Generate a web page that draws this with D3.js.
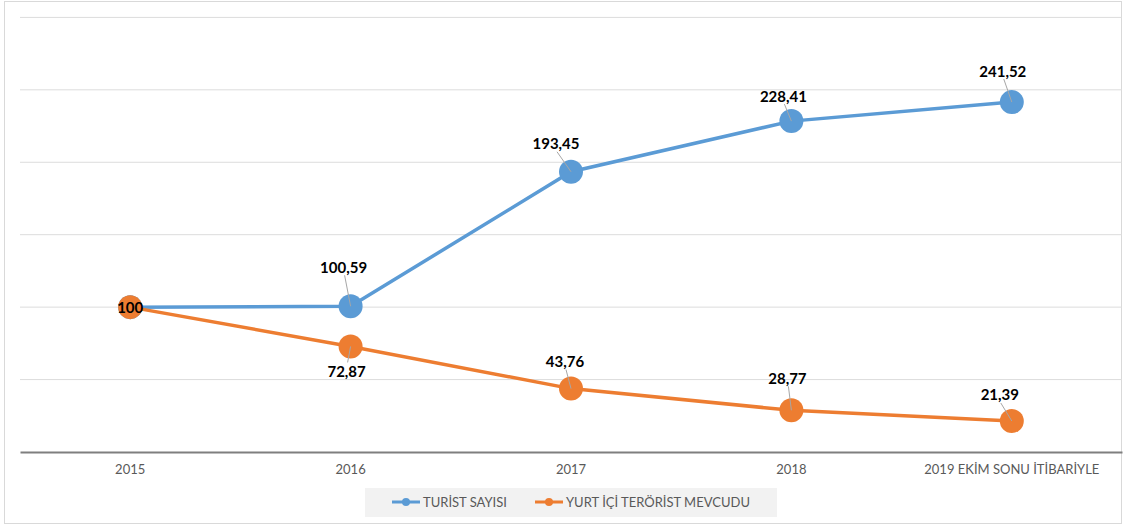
<!DOCTYPE html>
<html>
<head>
<meta charset="utf-8">
<script src="https://cdn.jsdelivr.net/npm/d3@7"></script>
<style>
  body { margin: 0; background: #fff; }
  text { font-family: Lato, "Open Sans", sans-serif; }
</style>
</head>
<body>
<div id="chart"></div>
<script>
// size
var svgWidth = 1123;
var svgHeight = 525;

// data
var categories = ["2015", "2016", "2017", "2018", "2019 EKİM SONU İTİBARİYLE"];
var seriesNames = ["TURİST SAYISI", "YURT İÇİ TERÖRİST MEVCUDU"];
var turistValues = [100, 100.59, 193.45, 228.41, 241.52];
var terorValues = [100, 72.87, 43.76, 28.77, 21.39];
var yTicks = [0, 50, 100, 150, 200, 250, 300];

var colors = ["#5B9BD5", "#ED7D31"];

var svg = d3.select("#chart")
  .append("svg")
  .attr("width", svgWidth)
  .attr("height", svgHeight);

// frame
svg.append("rect")
  .attr("x", 4.5).attr("y", 1.5)
  .attr("width", svgWidth - 6).attr("height", svgHeight - 3)
  .attr("fill", "#fff")
  .attr("stroke", "#d9d9d9");

var xScale = d3.scaleBand()
  .domain(categories)
  .range([20, 1122]);

var yScale = d3.scaleLinear()
  .domain([0, 300])
  .range([452, 17.4]);

var cx = d => xScale(d) + xScale.bandwidth() / 2;

// gridlines
svg.append("g")
  .selectAll("line")
  .data(yTicks.slice(1))
  .enter()
  .append("line")
  .attr("x1", 20).attr("x2", 1122)
  .attr("y1", d => yScale(d)).attr("y2", d => yScale(d))
  .attr("stroke", "#dcdcdc")
  .attr("stroke-width", 1);

// x axis
var xAxis = svg.append("g")
  .attr("transform", `translate(0, ${yScale(0)})`)
  .call(d3.axisBottom(xScale).tickSize(0).tickPadding(13));
xAxis.select(".domain").attr("stroke", "#7f7f7f").attr("stroke-width", 2);
xAxis.selectAll("text")
  .attr("fill", "#595959")
  .style("font-size", "13px")
  .style("font-family", "Lato, 'Open Sans', sans-serif");

// series
var series = [
  { name: seriesNames[0], values: turistValues, color: colors[0] },
  { name: seriesNames[1], values: terorValues, color: colors[1] }
];

// label offsets (dx, dy) from point centre
var labelOffsets = [
  [[0, 0], [-7, -39], [-15, -28], [-8, -25], [-9, -31]],
  [[0, 0], [-4, 25], [-6, -27], [-4, -32], [-12, -26]]
];

var line = d3.line()
  .x((d, i) => cx(categories[i]))
  .y(d => yScale(d));

series.forEach((s, si) => {
  var g = svg.append("g");

  g.append("path")
    .datum(s.values)
    .attr("fill", "none")
    .attr("stroke", s.color)
    .attr("stroke-width", 3.5)
    .attr("d", line);

  g.selectAll("circle")
    .data(s.values)
    .enter()
    .append("circle")
    .attr("cx", (d, i) => cx(categories[i]))
    .attr("cy", d => yScale(d))
    .attr("r", 12)
    .attr("fill", s.color);
});

// data labels with leader lines
series.forEach((s, si) => {
  var g = svg.append("g");
  s.values.forEach((v, i) => {
    if (si === 0 && i === 0) return; // 100 shown once
    var px = cx(categories[i]);
    var py = yScale(v);
    var off = labelOffsets[si][i];
    var lx = px + off[0];
    var ly = py + off[1];
    if (i > 0) {
      var endY = off[1] < 0 ? ly + 8 : ly - 9;
      g.append("line")
        .attr("x1", px).attr("y1", py)
        .attr("x2", lx + 1).attr("y2", endY)
        .attr("stroke", "#a6a6a6")
        .attr("stroke-width", 1);
    }
    g.append("text")
      .attr("x", lx)
      .attr("y", ly)
      .attr("text-anchor", "middle")
      .attr("dy", "0.36em")
      .style("font-size", "15px")
      .style("font-weight", "bold")
      .attr("fill", "#000")
      .text(i === 0 ? "100" : d3.format(".2f")(v).replace(".", ","));
  });
});

// legend
var legend = svg.append("g");
legend.append("rect")
  .attr("x", 365).attr("y", 488)
  .attr("width", 412).attr("height", 29)
  .attr("fill", "#f2f2f2");

var legendX = [392, 535];
series.forEach((s, si) => {
  var lg = legend.append("g")
    .attr("transform", `translate(${legendX[si]}, 502)`);
  lg.append("line")
    .attr("x1", 0).attr("x2", 28)
    .attr("stroke", s.color).attr("stroke-width", 3);
  lg.append("circle")
    .attr("cx", 14).attr("r", 4)
    .attr("fill", s.color);
  lg.append("text")
    .attr("x", 31).attr("dy", "0.35em")
    .attr("fill", "#595959")
    .style("font-size", "13px")
    .text(s.name);
});
</script>
</body>
</html>
